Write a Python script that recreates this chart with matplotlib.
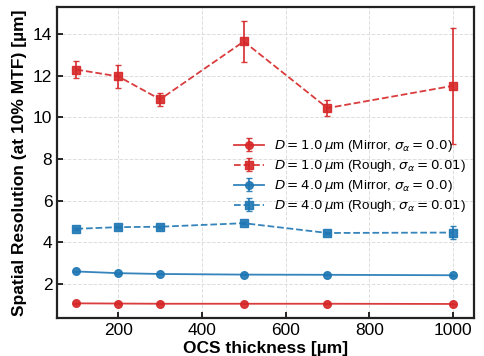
import numpy as np
import matplotlib.pyplot as plt

plt.rcParams['font.family'] = ['Liberation Sans', 'DejaVu Sans']
plt.rcParams['mathtext.fontset'] = 'dejavusans'

# OCS thickness values (um)
thickness = [100, 200, 300, 500, 700, 1000]

# spatial resolution at 10% MTF (um)
d1_mirror = [1.07, 1.06, 1.05, 1.05, 1.05, 1.04]
d1_mirror_err = [0.02, 0.02, 0.02, 0.02, 0.02, 0.02]
d1_rough = [12.3, 11.97, 10.87, 13.65, 10.45, 11.52]
d1_rough_err = [0.4, 0.55, 0.3, 1.0, 0.4, 2.8]
d4_mirror = [2.6, 2.52, 2.48, 2.45, 2.44, 2.42]
d4_mirror_err = [0.02, 0.02, 0.02, 0.02, 0.02, 0.02]
d4_rough = [4.65, 4.73, 4.75, 4.92, 4.45, 4.47]
d4_rough_err = [0.05, 0.05, 0.05, 0.05, 0.05, 0.3]

red = '#d62728'
blue = '#1f77b4'

fig, ax = plt.subplots(figsize=(4.85, 3.56), dpi=100)

ax.errorbar(thickness, d1_mirror, yerr=d1_mirror_err, color=red, marker='o', ms=5.5,
            ls='-', lw=1.3, capsize=2.5, alpha=0.9,
            label=r'$D = 1.0\,\mu$m (Mirror, $\sigma_\alpha = 0.0$)')
ax.errorbar(thickness, d1_rough, yerr=d1_rough_err, color=red, marker='s', ms=5.5,
            ls='--', lw=1.3, capsize=2.5, alpha=0.9,
            label=r'$D = 1.0\,\mu$m (Rough, $\sigma_\alpha = 0.01$)')
ax.errorbar(thickness, d4_mirror, yerr=d4_mirror_err, color=blue, marker='o', ms=5.5,
            ls='-', lw=1.3, capsize=2.5, alpha=0.9,
            label=r'$D = 4.0\,\mu$m (Mirror, $\sigma_\alpha = 0.0$)')
ax.errorbar(thickness, d4_rough, yerr=d4_rough_err, color=blue, marker='s', ms=5.5,
            ls='--', lw=1.3, capsize=2.5, alpha=0.9,
            label=r'$D = 4.0\,\mu$m (Rough, $\sigma_\alpha = 0.01$)')

ax.set_xlim(54, 1050)
ax.set_ylim(0.37, 15.3)
ax.set_xticks([200, 400, 600, 800, 1000])
ax.set_yticks([2, 4, 6, 8, 10, 12, 14])
ax.grid(True, ls='--', color='#dddddd', lw=0.7)
ax.tick_params(direction='in', labelsize=12.5, width=1.2, length=4)
for s in ax.spines.values():
    s.set_linewidth(1.6)
    s.set_color('#222222')

ax.set_xlabel('OCS thickness [µm]', fontsize=12.5, fontweight='bold', labelpad=2)
ax.set_ylabel('Spatial Resolution (at 10% MTF) [µm]', fontsize=12.5, fontweight='bold', labelpad=4)
ax.legend(frameon=False, fontsize=9.6, loc='center right', bbox_to_anchor=(1.01, 0.455),
          handlelength=2.2, labelspacing=0.3)

plt.subplots_adjust(left=0.118, right=0.977, top=0.98, bottom=0.107)
plt.savefig('out.png')
